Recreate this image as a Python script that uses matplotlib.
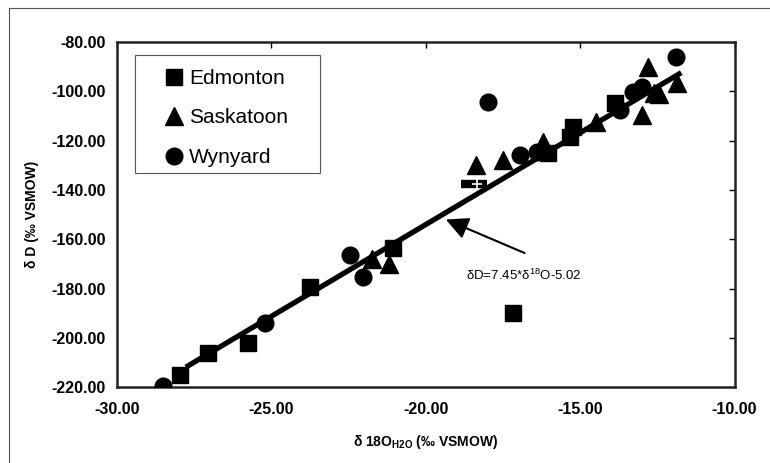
import matplotlib.pyplot as plt
import numpy as np
from matplotlib.lines import Line2D
from matplotlib.patches import Rectangle
from matplotlib.ticker import FormatStrFormatter, MultipleLocator

plt.rcParams['font.family'] = ['Liberation Sans', 'DejaVu Sans']
plt.rcParams['mathtext.fontset'] = 'custom'
plt.rcParams['mathtext.rm'] = 'Liberation Sans'
plt.rcParams['mathtext.bf'] = 'Liberation Sans:bold'

# isotope data per station (d18O, dD, permil VSMOW)
edm_x = [-27.96, -27.05, -25.76, -23.75, -21.05, -17.18, -16.05, -15.34, -15.24, -13.88]
edm_y = [-215.0, -206.0, -202.2, -179.4, -163.6, -190.0, -125.0, -118.6, -114.5, -104.8]

sas_x = [-21.75, -21.2, -18.38, -17.5, -16.2, -14.5, -13.0, -12.8, -12.6, -12.45, -11.85]
sas_y = [-168.0, -170.0, -130.0, -128.0, -120.5, -112.6, -109.6, -90.0, -100.5, -101.0, -96.4]

wyn_x = [-28.5, -25.2, -22.45, -22.05, -18.0, -16.95, -16.4, -13.7, -13.3, -13.0, -11.9]
wyn_y = [-219.6, -194.0, -166.6, -175.2, -104.3, -125.8, -124.6, -107.6, -100.4, -98.2, -86.0]

# local meteoric water line
slope, intercept = 7.45, -5.02
fit_x = np.array([-27.7, -11.8])

fig = plt.figure(figsize=(7.7, 4.63), dpi=100)
ax = fig.add_axes([0.152, 0.164, 0.802, 0.745])

# outer frame
fig.add_artist(Line2D([0.012, 0.012], [0.0, 0.983], color='#555555', lw=0.8))
fig.add_artist(Line2D([0.012, 1.0], [0.983, 0.983], color='#555555', lw=0.8))

ax.plot(fit_x, slope * fit_x + intercept, color='black', lw=3.8, zorder=2)

ms = 12
ax.plot(edm_x, edm_y, 's', color='black', ms=ms, label='Edmonton', zorder=3)
ax.plot(sas_x, sas_y, '^', color='black', ms=ms + 1, label='Saskatoon', zorder=3)
ax.plot(wyn_x, wyn_y, 'o', color='black', ms=ms, label='Wynyard', zorder=3)

# odd cross-shaped point on the line
ax.plot([-18.45], [-137.5], '_', color='black', ms=19, mew=6, zorder=4)
ax.plot([-18.35], [-137.5], '+', color='white', ms=7, mew=1.2, zorder=5)

ax.annotate('', xy=(-19.35, -152.0), xytext=(-16.8, -165.6),
            arrowprops=dict(arrowstyle='-|>', color='black', lw=1.5,
                            mutation_scale=34, shrinkA=0, shrinkB=0))
ax.text(-18.7, -174.6, r'δD=7.45*δ$^{18}$O-5.02', fontsize=9.5, va='center')

ax.set_xlim(-30, -10)
ax.set_ylim(-220, -80)
ax.xaxis.set_major_locator(MultipleLocator(5))
ax.yaxis.set_major_locator(MultipleLocator(20))
ax.xaxis.set_major_formatter(FormatStrFormatter('%.2f'))
ax.yaxis.set_major_formatter(FormatStrFormatter('%.2f'))
ax.tick_params(axis='both', which='both', labelsize=11.5, length=0)
ax.tick_params(axis='x', pad=11)
ax.tick_params(axis='y', pad=8)
ax.tick_params(top=True, right=True, direction='in', length=4, width=1)
ax.tick_params(bottom=False, left=False)
for lab in ax.get_xticklabels() + ax.get_yticklabels():
    lab.set_fontweight('bold')

for sp in ax.spines.values():
    sp.set_linewidth(1.8)
    sp.set_color('#222222')

ax.set_xlabel(r'δ 18O$_{\mathbf{H2O}}$ (‰ VSMOW)', fontsize=10, fontweight='bold', labelpad=11)
ax.set_ylabel('δ D (‰ VSMOW)', fontsize=10, fontweight='bold', labelpad=9)

# legend box drawn separately so the entries can sit indented inside it
ax.add_patch(Rectangle((0.029, 0.620), 0.299, 0.342, transform=ax.transAxes,
                       facecolor='white', edgecolor='#555555', lw=0.8, zorder=5))
leg = ax.legend(loc='upper left', bbox_to_anchor=(0.0793, 0.922), borderaxespad=0,
                borderpad=0, fontsize=15, frameon=False, handlelength=0.8,
                handletextpad=0.3, labelspacing=0.98)
leg.set_zorder(6)

fig.savefig('out.png', dpi=100)
